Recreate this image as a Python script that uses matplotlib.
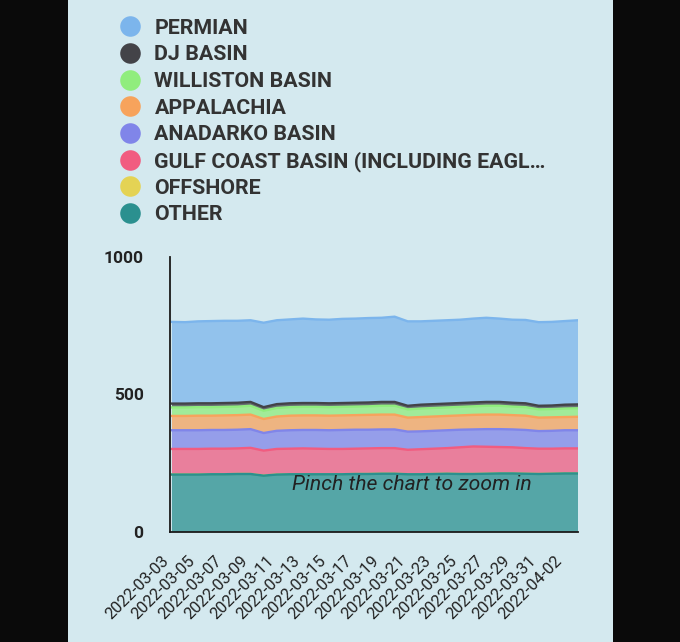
import matplotlib
matplotlib.use("Agg")
import matplotlib.pyplot as plt
from matplotlib.lines import Line2D
from matplotlib.patches import Rectangle
import numpy as np

plt.rcParams['font.family'] = ['Roboto', 'DejaVu Sans']

# ---------------- data ----------------
dates = ["2022-03-03", "2022-03-04", "2022-03-05", "2022-03-06", "2022-03-07", "2022-03-08",
         "2022-03-09", "2022-03-10", "2022-03-11", "2022-03-12", "2022-03-13", "2022-03-14",
         "2022-03-15", "2022-03-16", "2022-03-17", "2022-03-18", "2022-03-19", "2022-03-20",
         "2022-03-21", "2022-03-22", "2022-03-23", "2022-03-24", "2022-03-25", "2022-03-26",
         "2022-03-27", "2022-03-28", "2022-03-29", "2022-03-30", "2022-03-31", "2022-04-01",
         "2022-04-02", "2022-04-03"]

series_names = ["PERMIAN", "DJ BASIN", "WILLISTON BASIN", "APPALACHIA", "ANADARKO BASIN",
                "GULF COAST BASIN (INCLUDING EAGL…", "OFFSHORE", "OTHER"]

permian = [297, 296, 298, 299, 299, 298, 297, 307, 305, 305, 307, 304, 304, 306, 306, 307,
           306, 310, 307, 303, 303, 303, 303, 305, 306, 303, 302, 303, 304, 304, 304, 306]
dj_basin = [14, 14, 14, 14, 14, 14, 14, 13, 14, 14, 14, 14, 14, 14, 14, 14,
            14, 14, 13, 14, 14, 14, 14, 14, 14, 14, 14, 14, 13, 13, 14, 14]
williston = [31, 31, 31, 31, 31, 31, 32, 30, 31, 31, 31, 31, 31, 31, 31, 31,
             32, 32, 30, 31, 31, 31, 31, 31, 32, 32, 31, 31, 30, 30, 31, 31]
appalachia = [52, 52, 53, 52, 53, 53, 53, 51, 52, 53, 53, 53, 53, 53, 53, 54,
              54, 54, 51, 52, 52, 52, 52, 53, 53, 53, 52, 52, 49, 49, 48, 49]
anadarko = [68, 68, 68, 68, 68, 68, 68, 64, 66, 67, 67, 68, 68, 69, 69, 68,
            68, 68, 66, 65, 65, 65, 64, 62, 64, 65, 65, 66, 64, 65, 66, 66]
gulf_coast = [93, 93, 93, 93, 93, 93, 95, 91, 93, 93, 94, 93, 92, 92, 92, 93,
              93, 93, 89, 91, 92, 93, 97, 100, 98, 96, 95, 93, 92, 91, 91, 91]
offshore = [0, 0, 0, 0, 0, 0, 0, 0, 0, 0, 0, 0, 0, 0, 0, 0,
            0, 0, 0, 0, 0, 0, 0, 0, 0, 0, 0, 0, 0, 0, 0, 0]
other = [209, 209, 209, 210, 210, 211, 211, 205, 209, 210, 210, 210, 210, 210, 211, 211,
         212, 212, 210, 210, 211, 212, 211, 211, 212, 213, 213, 212, 211, 212, 213, 213]

colors = ["#7cb5ec", "#434348", "#90ed7d", "#f7a35c", "#8085e9", "#f15c80", "#e4d354", "#2b908f"]

y_ticks = [0, 500, 1000]

# ---------------- figure ----------------
W, H = 680, 642
fig = plt.figure(figsize=(W / 100, H / 100), dpi=100)
fig.patch.set_facecolor("#0a0a0a")
bg = "#d4e9ef"
fig.add_artist(Rectangle((68 / W, 0), (613 - 68) / W, 1, transform=fig.transFigure,
                         facecolor=bg, edgecolor="none", zorder=0))

ax = fig.add_axes([170 / W, (H - 532) / H, (578 - 170) / W, (532 - 257) / H])
ax.set_facecolor("none")

x = np.arange(len(dates))
values = [permian, dj_basin, williston, appalachia, anadarko, gulf_coast, offshore, other]
# stack: last series at bottom, first series on top
stack_bottom_up = values[::-1]
cum = np.cumsum(np.array(stack_bottom_up, dtype=float), axis=0)
n = len(values)
for i, (name, col) in enumerate(zip(series_names, colors)):
    k = n - 1 - i  # index in bottom-up stack
    top = cum[k]
    bottom = cum[k - 1] if k > 0 else np.zeros_like(top)
    ax.fill_between(x, bottom, top, facecolor=col, alpha=0.75, linewidth=0, zorder=2 + i)
    ax.plot(x, top, color=col, linewidth=1.7, zorder=2 + i, solid_joinstyle="round")

ax.set_xlim(-0.15, len(dates) - 1)
ax.set_ylim(0, 1000)

ax.set_yticks(y_ticks)
ax.set_yticklabels([str(v) for v in y_ticks], fontsize=12.5, fontweight="bold", color="#222222")
ax.set_xticks(x[::2])
ax.set_xticklabels(dates[::2], rotation=45, ha="right", fontsize=11.8, color="#222222")
ax.tick_params(axis="y", length=0, pad=19)
ax.tick_params(axis="x", length=0, pad=15)

for s in ["top", "right"]:
    ax.spines[s].set_visible(False)
for s in ["left", "bottom"]:
    ax.spines[s].set_color("#1a1a1a")
    ax.spines[s].set_linewidth(1.3)
    ax.spines[s].set_zorder(20)

# ---------------- legend ----------------
for i, (name, col) in enumerate(zip(series_names, colors)):
    yc = 26.3 + 26.67 * i
    fig.add_artist(Line2D([129.7 / W], [(H - yc) / H], marker="o", markersize=14.8,
                          markerfacecolor=col, markeredgecolor="none", linestyle="none",
                          transform=fig.transFigure))
    fig.text(154.5 / W, (H - yc - 2.0) / H, name, fontsize=15.4, fontweight="bold",
             color="#333333", va="center", ha="left")

fig.text(292 / W, (H - 484) / H, "Pinch the chart to zoom in", fontsize=15.2,
         style="italic", color="#222222", va="center", ha="left", zorder=30)

fig.savefig("out.png", dpi=100, facecolor=fig.get_facecolor())
